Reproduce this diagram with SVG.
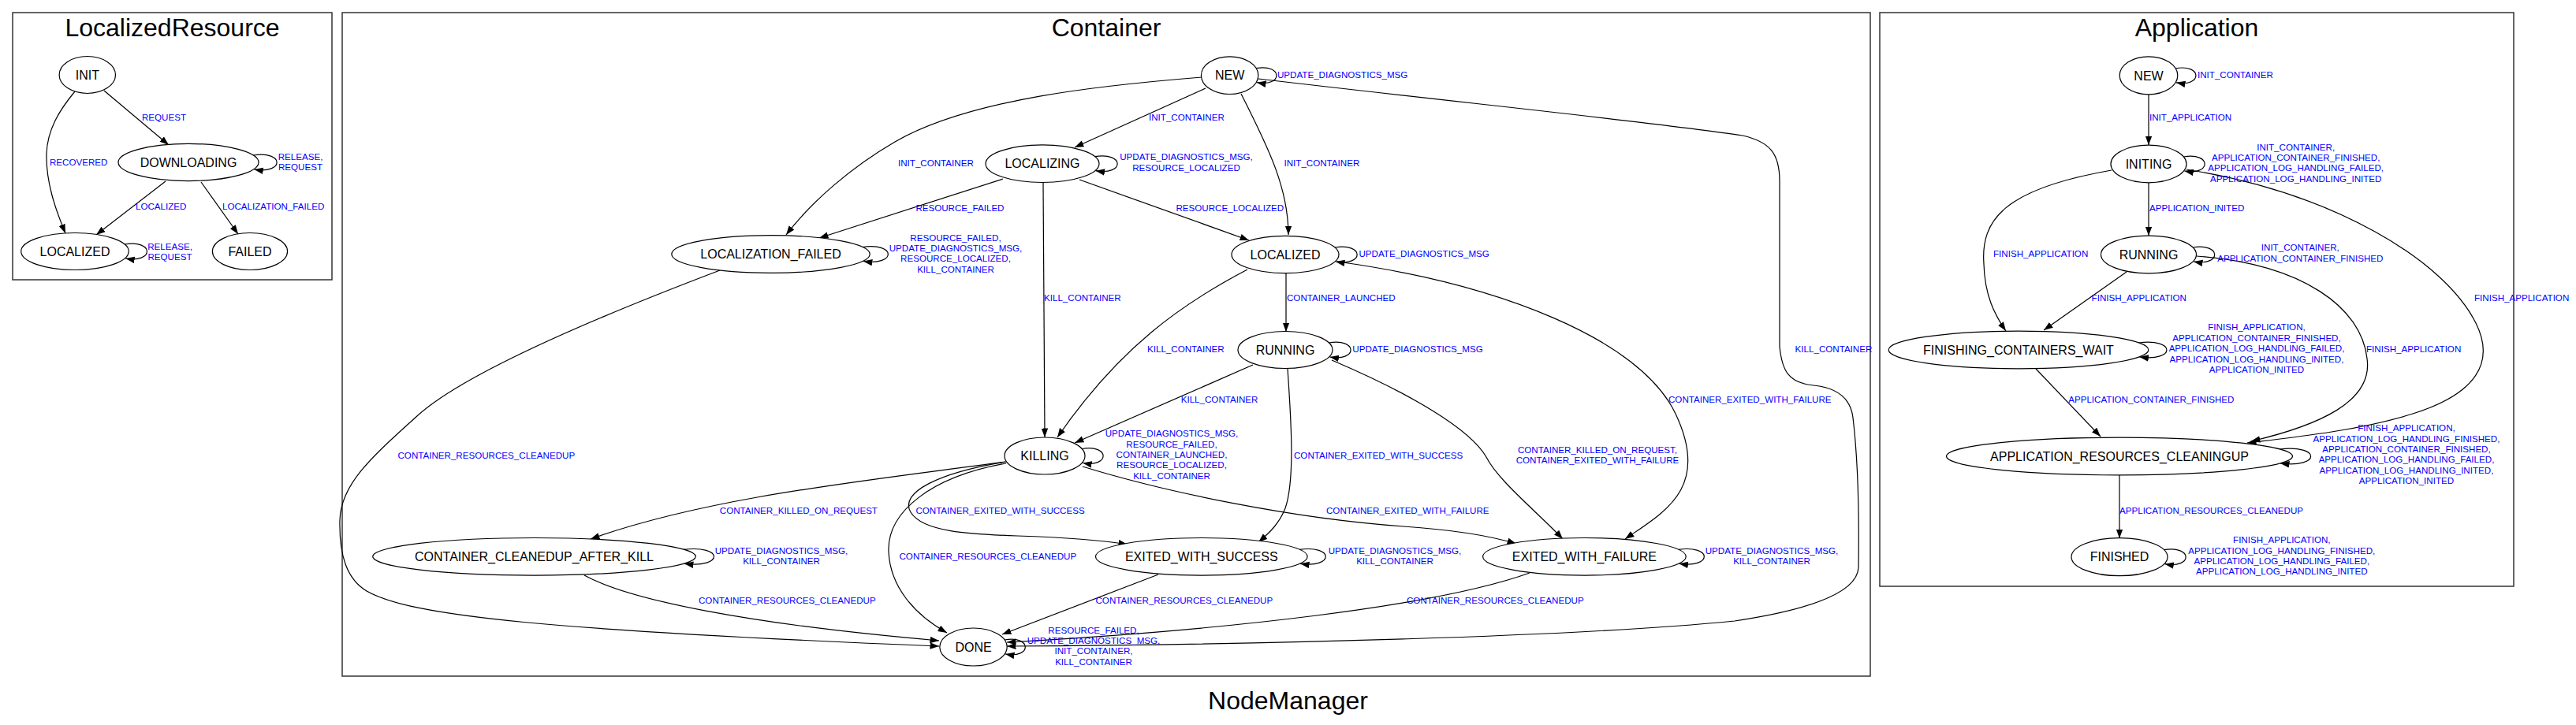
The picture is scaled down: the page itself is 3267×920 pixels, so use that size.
<svg xmlns="http://www.w3.org/2000/svg" width="3267" height="920" viewBox="0 0 3267 920">
<defs>
<marker id="arr" markerWidth="12" markerHeight="9" refX="11.5" refY="4.25" orient="auto" markerUnits="userSpaceOnUse"><path d="M0,0 L11.5,4.25 L0,8.5 z" fill="#000"/></marker>
</defs>
<style>
text{font-family:"Liberation Sans",Arial,Helvetica,sans-serif}
.cl{fill:none;stroke:#333;stroke-width:1.5}
.ct{font-size:32px;text-anchor:middle;fill:#000}
.node ellipse{fill:#fff;stroke:#000;stroke-width:1.2}
.node text{font-size:16px;text-anchor:middle;fill:#000}
#edges path{fill:none;stroke:#000;stroke-width:1.2;marker-end:url(#arr)}
.el{font-size:11.6px;fill:#0000ff}
.m{text-anchor:middle}
</style>
<rect width="3267" height="920" fill="#fff"/>
<g id="clusters">
<rect class="cl" x="16" y="16" width="405" height="339"/>
<text class="ct" x="218.5" y="46">LocalizedResource</text>
<rect class="cl" x="434" y="16" width="1938" height="842"/>
<text class="ct" x="1403" y="46">Container</text>
<rect class="cl" x="2384" y="16" width="804" height="728"/>
<text class="ct" x="2786" y="46">Application</text>
<text class="ct" x="1633.5" y="900">NodeManager</text>
</g>
<g id="edges">
<!-- LocalizedResource -->
<path d="M132,115 L214,184"/>
<path d="M95,116 C75,140 60,165 59,195 C58,230 70,265 83,296"/>
<path d="M210,230 L122,298"/>
<path d="M255,231 L302,297"/>
<path d="M321.3,197 C360.9,191 360.9,221 322.3,215"/>
<path d="M158.2,310 C195.7,304 195.7,334 159.2,328"/>
<!-- Container -->
<path d="M1593.1,86.7 C1627.3,80.7 1627.3,110.7 1594.1,104.7"/>
<path d="M1529,112 L1363,187"/>
<path d="M1524,98 C1400,108 1230,125 1135,180 C1080,212 1030,255 997,298"/>
<path d="M1574,119 C1610,190 1634,240 1634,298"/>
<path d="M1596,100 C1850,130 2100,155 2210,172 C2245,180 2257,195 2257,230 L2257,440 C2260,470 2268,486 2300,489 C2330,492 2347,505 2350,530 C2356,580 2358,650 2357,720 C2356,745 2320,770 2200,788 C2000,808 1600,818 1277,820"/>
<path d="M1388.6,198.7 C1426.5,192.7 1426.5,222.7 1389.6,216.7"/>
<path d="M1272,227 L1039,302"/>
<path d="M1369,228 L1584,305"/>
<path d="M1323,232 L1325,555"/>
<path d="M1093.8,313.5 C1137,307.5 1137,337.5 1094.8,331.5"/>
<path d="M913,343 C813,381 600,464 530,527 C470,581 432,615 431,660 C430,705 440,735 465,750 C520,782 700,800 1191,820"/>
<path d="M1692.9,314 C1730.4,308 1730.4,338 1693.9,332"/>
<path d="M1631,347 L1631,421"/>
<path d="M1582,342 C1500,385 1420,440 1341,555"/>
<path d="M1696,332 C1900,360 2080,430 2125,525 C2170,620 2110,650 2061,684"/>
<path d="M1685.5,435 C1722.1,429 1722.1,459 1686.5,453"/>
<path d="M1589,463 L1363,562"/>
<path d="M1633,468 C1638,540 1642,610 1630,645 C1622,665 1610,676 1596,688"/>
<path d="M1689,457 C1790,500 1865,545 1885,580 C1900,610 1950,650 1982,684"/>
<path d="M1372.2,569.5 C1407.9,563.5 1407.9,593.5 1373.2,587.5"/>
<path d="M1275,586 C1100,610 900,630 749,684"/>
<path d="M1276,586 C1190,600 1140,625 1155,650 C1170,675 1230,678 1290,680 C1350,682 1400,686 1430,691"/>
<path d="M1373,592 C1480,625 1640,658 1780,668 C1840,672 1890,680 1923,690"/>
<path d="M1276,588 C1180,605 1125,650 1127,700 C1129,745 1160,780 1201,803"/>
<path d="M866.9,697.3 C918.1,691.3 918.1,721.3 867.9,715.3"/>
<path d="M741,730 C800,762 950,792 1191,813"/>
<path d="M1648,697.3 C1692.1,691.3 1692.1,721.3 1649,715.3"/>
<path d="M2128.5,697.3 C2172.1,691.3 2172.1,721.3 2129.5,715.3"/>
<path d="M1469,729 L1271,805"/>
<path d="M1940,727 C1820,770 1550,800 1277,815"/>
<path d="M1274,812 C1308.9,806 1308.9,836 1275,830"/>
<!-- Application -->
<path d="M2759,86.8 C2793.4,80.8 2793.4,110.8 2760,104.8"/>
<path d="M2725,120 L2725,184"/>
<path d="M2769.4,199 C2804.9,193 2804.9,223 2770.4,217"/>
<path d="M2725,232 L2725,299"/>
<path d="M2678,216 C2540,240 2512,280 2516,335 C2517,375 2530,400 2544,420"/>
<path d="M2773,215 C2960,245 3100,330 3140,410 C3165,460 3140,500 3060,525 C2990,547 2900,556 2850,562"/>
<path d="M2781,314 C2817.7,308 2817.7,338 2782,332"/>
<path d="M2697,345 L2592,419"/>
<path d="M2786,325 C2920,335 2995,390 3002,455 C3010,510 2940,540 2855,560"/>
<path d="M2712.4,435 C2759.6,429 2759.6,459 2713.4,453"/>
<path d="M2582,468 L2664,554"/>
<path d="M2891,570 C2943.7,564 2943.7,594 2892,588"/>
<path d="M2688,603 L2688,683"/>
<path d="M2744.4,697.7 C2781.2,691.7 2781.2,721.7 2745.4,715.7"/>
</g>
<g id="edge-labels">
<text class="el" x="180" y="153">REQUEST</text>
<text class="el" x="63" y="210">RECOVERED</text>
<text class="el" x="172" y="265.6">LOCALIZED</text>
<text class="el" x="282" y="265.6">LOCALIZATION_FAILED</text>
<text class="el m"><tspan x="381" y="202.5">RELEASE,</tspan><tspan x="381" y="216">REQUEST</tspan></text>
<text class="el m"><tspan x="215.5" y="316.5">RELEASE,</tspan><tspan x="215.5" y="330">REQUEST</tspan></text>

<text class="el" x="1620" y="99">UPDATE_DIAGNOSTICS_MSG</text>
<text class="el" x="1457" y="153">INIT_CONTAINER</text>
<text class="el" x="1139" y="210.7">INIT_CONTAINER</text>
<text class="el" x="1628.5" y="210.7">INIT_CONTAINER</text>
<text class="el" x="2276.6" y="446.7">KILL_CONTAINER</text>
<text class="el m"><tspan x="1504.5" y="203.3">UPDATE_DIAGNOSTICS_MSG,</tspan><tspan x="1504.5" y="217">RESOURCE_LOCALIZED</tspan></text>
<text class="el" x="1161.4" y="267.7">RESOURCE_FAILED</text>
<text class="el" x="1491.5" y="267.7">RESOURCE_LOCALIZED</text>
<text class="el" x="1324" y="382.3">KILL_CONTAINER</text>
<text class="el m"><tspan x="1212" y="305.5">RESOURCE_FAILED,</tspan><tspan x="1212" y="318.9">UPDATE_DIAGNOSTICS_MSG,</tspan><tspan x="1212" y="332.3">RESOURCE_LOCALIZED,</tspan><tspan x="1212" y="345.7">KILL_CONTAINER</tspan></text>
<text class="el" x="1723.5" y="325.7">UPDATE_DIAGNOSTICS_MSG</text>
<text class="el" x="1632" y="382.3">CONTAINER_LAUNCHED</text>
<text class="el" x="1455" y="446.7">KILL_CONTAINER</text>
<text class="el" x="2116" y="510.7">CONTAINER_EXITED_WITH_FAILURE</text>
<text class="el" x="1715.3" y="446.7">UPDATE_DIAGNOSTICS_MSG</text>
<text class="el" x="1497.7" y="510.7">KILL_CONTAINER</text>
<text class="el" x="1641" y="581.7">CONTAINER_EXITED_WITH_SUCCESS</text>
<text class="el m"><tspan x="2026" y="575">CONTAINER_KILLED_ON_REQUEST,</tspan><tspan x="2026" y="588.3">CONTAINER_EXITED_WITH_FAILURE</tspan></text>
<text class="el m"><tspan x="1486" y="554.3">UPDATE_DIAGNOSTICS_MSG,</tspan><tspan x="1486" y="567.7">RESOURCE_FAILED,</tspan><tspan x="1486" y="581">CONTAINER_LAUNCHED,</tspan><tspan x="1486" y="594.3">RESOURCE_LOCALIZED,</tspan><tspan x="1486" y="607.7">KILL_CONTAINER</tspan></text>
<text class="el" x="912.8" y="651.7">CONTAINER_KILLED_ON_REQUEST</text>
<text class="el" x="1161.4" y="651.7">CONTAINER_EXITED_WITH_SUCCESS</text>
<text class="el" x="1682" y="651.7">CONTAINER_EXITED_WITH_FAILURE</text>
<text class="el" x="1140.5" y="709.5">CONTAINER_RESOURCES_CLEANEDUP</text>
<text class="el m"><tspan x="991" y="702.7">UPDATE_DIAGNOSTICS_MSG,</tspan><tspan x="991" y="716">KILL_CONTAINER</tspan></text>
<text class="el" x="886" y="766">CONTAINER_RESOURCES_CLEANEDUP</text>
<text class="el" x="504.5" y="582">CONTAINER_RESOURCES_CLEANEDUP</text>
<text class="el m"><tspan x="1769" y="702.7">UPDATE_DIAGNOSTICS_MSG,</tspan><tspan x="1769" y="716">KILL_CONTAINER</tspan></text>
<text class="el m"><tspan x="2247" y="702.7">UPDATE_DIAGNOSTICS_MSG,</tspan><tspan x="2247" y="716">KILL_CONTAINER</tspan></text>
<text class="el" x="1389.5" y="766">CONTAINER_RESOURCES_CLEANEDUP</text>
<text class="el" x="1784" y="766">CONTAINER_RESOURCES_CLEANEDUP</text>
<text class="el m"><tspan x="1387" y="803.5">RESOURCE_FAILED,</tspan><tspan x="1387" y="816.9">UPDATE_DIAGNOSTICS_MSG,</tspan><tspan x="1387" y="830.3">INIT_CONTAINER,</tspan><tspan x="1387" y="843.7">KILL_CONTAINER</tspan></text>

<text class="el" x="2787" y="99">INIT_CONTAINER</text>
<text class="el" x="2726" y="153.3">INIT_APPLICATION</text>
<text class="el m"><tspan x="2911.7" y="190.7">INIT_CONTAINER,</tspan><tspan x="2911.7" y="204">APPLICATION_CONTAINER_FINISHED,</tspan><tspan x="2911.7" y="217.3">APPLICATION_LOG_HANDLING_FAILED,</tspan><tspan x="2911.7" y="230.7">APPLICATION_LOG_HANDLING_INITED</tspan></text>
<text class="el" x="2726" y="267.7">APPLICATION_INITED</text>
<text class="el" x="2528" y="325.7">FINISH_APPLICATION</text>
<text class="el" x="3138" y="382.3">FINISH_APPLICATION</text>
<text class="el m"><tspan x="2917.3" y="318.3">INIT_CONTAINER,</tspan><tspan x="2917.3" y="331.7">APPLICATION_CONTAINER_FINISHED</tspan></text>
<text class="el" x="2652.6" y="382.3">FINISH_APPLICATION</text>
<text class="el" x="3001" y="446.7">FINISH_APPLICATION</text>
<text class="el m"><tspan x="2862" y="419.3">FINISH_APPLICATION,</tspan><tspan x="2862" y="432.8">APPLICATION_CONTAINER_FINISHED,</tspan><tspan x="2862" y="446.3">APPLICATION_LOG_HANDLING_FAILED,</tspan><tspan x="2862" y="459.8">APPLICATION_LOG_HANDLING_INITED,</tspan><tspan x="2862" y="473.3">APPLICATION_INITED</tspan></text>
<text class="el" x="2623.2" y="510.7">APPLICATION_CONTAINER_FINISHED</text>
<text class="el m"><tspan x="3052" y="547.3">FINISH_APPLICATION,</tspan><tspan x="3052" y="560.7">APPLICATION_LOG_HANDLING_FINISHED,</tspan><tspan x="3052" y="574">APPLICATION_CONTAINER_FINISHED,</tspan><tspan x="3052" y="587.3">APPLICATION_LOG_HANDLING_FAILED,</tspan><tspan x="3052" y="600.7">APPLICATION_LOG_HANDLING_INITED,</tspan><tspan x="3052" y="614">APPLICATION_INITED</tspan></text>
<text class="el" x="2688" y="651.7">APPLICATION_RESOURCES_CLEANEDUP</text>
<text class="el m"><tspan x="2893.8" y="689.3">FINISH_APPLICATION,</tspan><tspan x="2893.8" y="702.7">APPLICATION_LOG_HANDLING_FINISHED,</tspan><tspan x="2893.8" y="716">APPLICATION_LOG_HANDLING_FAILED,</tspan><tspan x="2893.8" y="729.3">APPLICATION_LOG_HANDLING_INITED</tspan></text>
</g>
<g id="lr_init" class="node"><ellipse cx="110.8" cy="95" rx="35.7" ry="23.5"/><text x="110.8" y="100.7">INIT</text></g>
<g id="lr_downloading" class="node"><ellipse cx="239" cy="206" rx="89" ry="23.6"/><text x="239" y="211.7">DOWNLOADING</text></g>
<g id="lr_localized" class="node"><ellipse cx="95" cy="319" rx="68.3" ry="23.5"/><text x="95" y="324.7">LOCALIZED</text></g>
<g id="lr_failed" class="node"><ellipse cx="317" cy="319" rx="47.6" ry="23.5"/><text x="317" y="324.7">FAILED</text></g>
<g id="c_new" class="node"><ellipse cx="1559.6" cy="95.7" rx="36.2" ry="23.8"/><text x="1559.6" y="101.4">NEW</text></g>
<g id="c_localizing" class="node"><ellipse cx="1322" cy="207.7" rx="72" ry="23.8"/><text x="1322" y="213.4">LOCALIZING</text></g>
<g id="c_localization_failed" class="node"><ellipse cx="977.5" cy="322.5" rx="125.7" ry="23.8"/><text x="977.5" y="328.2">LOCALIZATION_FAILED</text></g>
<g id="c_localized" class="node"><ellipse cx="1630" cy="323" rx="68" ry="23.7"/><text x="1630" y="328.7">LOCALIZED</text></g>
<g id="c_running" class="node"><ellipse cx="1630" cy="444" rx="60" ry="23.5"/><text x="1630" y="449.7">RUNNING</text></g>
<g id="c_killing" class="node"><ellipse cx="1325" cy="578.5" rx="51" ry="23.5"/><text x="1325" y="584.2">KILLING</text></g>
<g id="c_cleanedup_after_kill" class="node"><ellipse cx="677.5" cy="706.3" rx="204.8" ry="23.8"/><text x="677.5" y="712">CONTAINER_CLEANEDUP_AFTER_KILL</text></g>
<g id="c_exited_with_success" class="node"><ellipse cx="1523.8" cy="706.3" rx="134.3" ry="23.8"/><text x="1523.8" y="712">EXITED_WITH_SUCCESS</text></g>
<g id="c_exited_with_failure" class="node"><ellipse cx="2009.4" cy="706.3" rx="128.8" ry="23.8"/><text x="2009.4" y="712">EXITED_WITH_FAILURE</text></g>
<g id="c_done" class="node"><ellipse cx="1234.5" cy="821" rx="42.7" ry="24"/><text x="1234.5" y="826.7">DONE</text></g>
<g id="a_new" class="node"><ellipse cx="2725" cy="95.8" rx="36.8" ry="24"/><text x="2725" y="101.5">NEW</text></g>
<g id="a_initing" class="node"><ellipse cx="2725" cy="208" rx="48" ry="23.8"/><text x="2725" y="213.7">INITING</text></g>
<g id="a_running" class="node"><ellipse cx="2725" cy="323" rx="60.5" ry="23.8"/><text x="2725" y="328.7">RUNNING</text></g>
<g id="a_finishing_containers_wait" class="node"><ellipse cx="2560" cy="444" rx="164.8" ry="23.8"/><text x="2560" y="449.7">FINISHING_CONTAINERS_WAIT</text></g>
<g id="a_application_resources_cleaningup" class="node"><ellipse cx="2688" cy="579" rx="219.5" ry="23.8"/><text x="2688" y="584.7">APPLICATION_RESOURCES_CLEANINGUP</text></g>
<g id="a_finished" class="node"><ellipse cx="2688" cy="706.7" rx="61" ry="24"/><text x="2688" y="712.4">FINISHED</text></g>
</svg>
